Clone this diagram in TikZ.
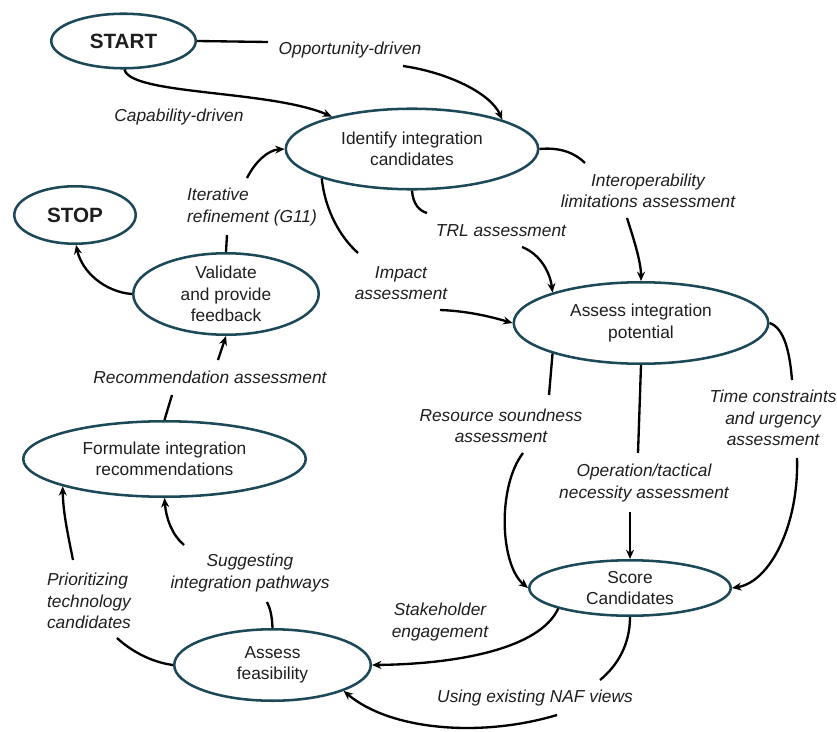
\documentclass[tikz,border=0pt]{standalone}
\usepackage{fontspec}
\setmainfont{Liberation Sans}
\usetikzlibrary{shapes.geometric,arrows.meta,calc}
\definecolor{ellc}{RGB}{28,72,88}
\definecolor{txtc}{RGB}{30,30,30}
\begin{document}
\begin{tikzpicture}[x=0.75pt,y=-0.75pt,
  ell/.style={ellipse,draw=ellc,line width=1.9pt,inner sep=0pt},
  etext/.style={font=\fontsize{13}{16}\selectfont,text=txtc,align=center,inner sep=0pt},
  btext/.style={font=\fontsize{15.5}{18}\selectfont\bfseries,text=txtc,inner sep=0pt},
  lab/.style={font=\fontsize{13}{16}\selectfont\itshape,text=txtc,align=center,inner sep=1pt},
  conn/.style={line width=1.75pt,black},
  arr/.style={conn,-{Stealth[length=7pt,width=6pt]}},
]
\useasboundingbox (0,0) rectangle (837,731);

% ellipses
\node[ell,minimum width=108.4pt,minimum height=40.9pt] (start) at (123.5,41) {};
\node[btext] (startt) at (start) {START};
\node[ell,minimum width=91.1pt,minimum height=43.1pt] (stop) at (75,215) {};
\node[btext] (stopt) at (stop) {STOP};
\node[ell,minimum width=189.3pt,minimum height=60.4pt] (id) at (412,149) {};
\node[etext] (idt) at (id) {Identify integration\\candidates};
\node[ell,minimum width=139.1pt,minimum height=61.1pt] (val) at (226,294) {};
\node[etext] (valt) at (val) {Validate\\and provide\\feedback};
\node[ell,minimum width=211.9pt,minimum height=56.6pt] (fo) at (164.5,459) {};
\node[etext] (fot) at (fo) {Formulate integration\\recommendations};
\node[ell,minimum width=190.9pt,minimum height=61.1pt] (ap) at (641,323) {};
\node[etext] (apt) at (ap) {Assess integration\\potential};
\node[ell,minimum width=151.1pt,minimum height=41.6pt] (score) at (630,588) {};
\node[etext] (scoret) at (score) {Score\\Candidates};
\node[ell,minimum width=147.4pt,minimum height=53.6pt] (fe) at (272.5,665) {};
\node[etext] (fet) at (fe) {Assess\\feasibility};

% labels
\node[lab] (opp) at (350,50) {Opportunity-driven};
\node[lab] (cap) at (179,117) {Capability-driven};
\node[lab,align=left] (itr) at (252,207) {Iterative\\refinement (G11)};
\node[lab] (iop) at (648,191) {Interoperability\\limitations assessment};
\node[lab] (trl) at (501,231) {TRL assessment};
\node[lab] (imp) at (401,283) {Impact\\assessment};
\node[lab] (rec) at (210,377) {Recommendation assessment};
\node[lab] (res) at (501,426) {Resource soundness\\assessment};
\node[lab] (tim) at (773,418) {Time constraints\\and urgency\\assessment};
\node[lab] (opn) at (644,483) {Operation/tactical\\necessity assessment};
\node[lab] (stk) at (440,622) {Stakeholder\\engagement};
\node[lab] (naf) at (535,698) {Using existing NAF views};
\node[lab,align=left] (pri) at (89,601) {Prioritizing\\technology\\candidates};
\node[lab] (sug) at (250,573) {Suggesting\\integration pathways};

% connectors
\draw[arr] (start.-88) .. controls (130,95) and (270,90) .. (id.158);

\draw[conn] (start.east) -- ($(opp)+(-82,-8)$);
\draw[arr] ($(opp)+(53,16)$) .. controls (445,72) and (490,92) .. (id.18);

\draw[conn] (val.north) -- ($(itr)+(-25,28)$);
\draw[arr] ($(itr)+(-5,-29)$) .. controls (255,162) and (268,150) .. (id.west);

\draw[conn] (id.east) .. controls (560,147) and (575,153) .. ($(iop)+(-63,-28)$);
\draw[arr] ($(iop)+(-21,27)$) .. controls (634,240) and (641,262) .. (ap.north);

\draw[conn] (id.south) .. controls (413,205) and (420,211) .. ($(trl)+(-74,-18)$);
\draw[arr] ($(trl)+(21,16)$) .. controls (540,254) and (550,272) .. (ap.161);

\draw[conn] (id.198) .. controls (325,210) and (340,237) .. ($(imp)+(-43,-30)$);
\draw[arr] ($(imp)+(39,27)$) .. controls (470,311) and (495,318) .. (ap.west);

\draw[conn] (ap.199) -- ($(res)+(48,-31)$);
\draw[arr] ($(res)+(22,27)$) .. controls (497,487) and (500,565) .. (score.west);

\draw[conn] (ap.south) -- ($(opn)+(-6,-30)$);
\draw[arr] ($(opn)+(-14,29)$) -- (score.north);

\draw[conn] (ap.east) .. controls (785,328) and (790,355) .. ($(tim)+(19,-38)$);
\draw[arr] ($(tim)+(24,40)$) .. controls (799,525) and (770,582) .. (score.east);

\draw[arr] (score.196) .. controls (540,648) and (460,664) .. (fe.east);

\draw[conn] (score.south) .. controls (630,645) and (617,666) .. ($(naf)+(65,-18)$);
\draw[arr] ($(naf)+(22,17)$) .. controls (480,738) and (390,730) .. (fe.-20);

\draw[conn] (fe.north) .. controls (272,615) and (270,608) .. ($(sug)+(17,29)$);
\draw[arr] ($(sug)+(-66,-28)$) .. controls (172,535) and (166,518) .. (fo.south);

\draw[conn] (fe.west) .. controls (150,662) and (130,650) .. ($(pri)+(28,37)$);
\draw[arr] ($(pri)+(-16,-41)$) .. controls (68,535) and (63,512) .. (fo.195);

\draw[conn] (fo.north) -- ($(rec)+(-38,18)$);
\draw[arr] ($(rec)+(8,-17)$) -- (val.south);

\draw[arr] (val.west) .. controls (105,292) and (82,272) .. (stop.-88);
\end{tikzpicture}
\end{document}
